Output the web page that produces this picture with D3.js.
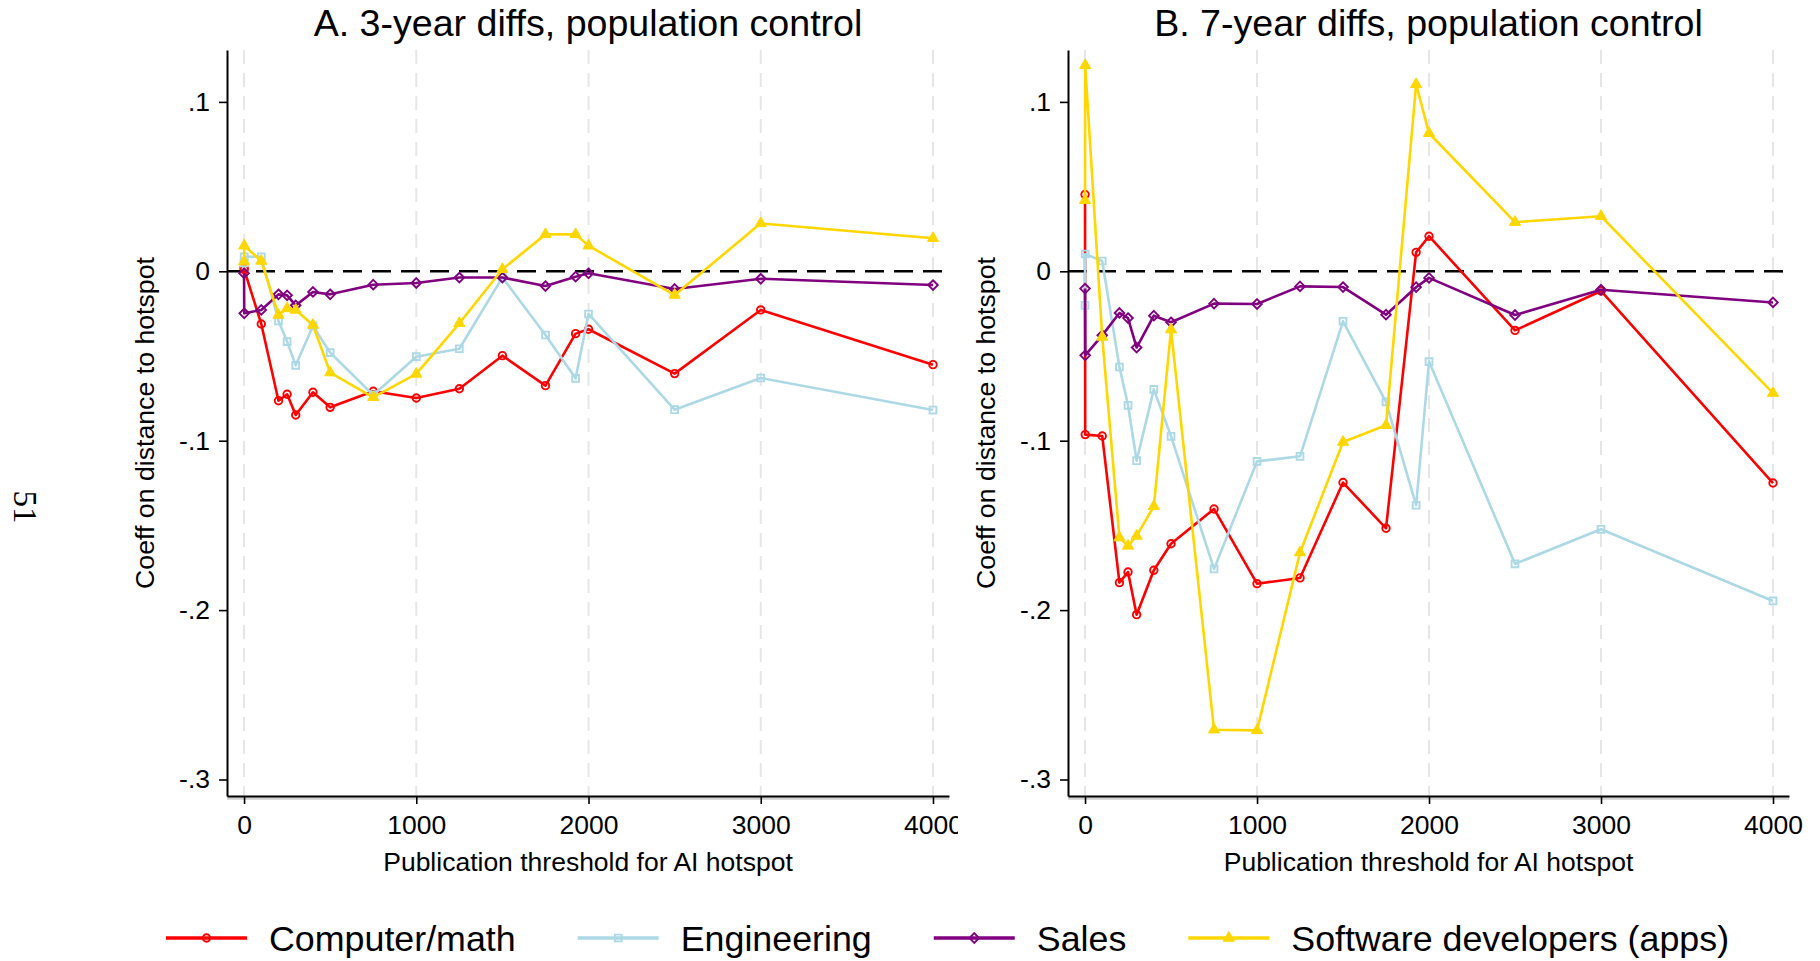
<!DOCTYPE html>
<html>
<head>
<meta charset="utf-8">
<script src="https://cdn.jsdelivr.net/npm/d3@7"></script>
<style>
  body { margin: 0; background: #ffffff; }
  svg { display: block; }
  text { font-family: "Liberation Sans", Arial, Helvetica, sans-serif; fill: #000; }
</style>
</head>
<body>
<svg id="chart" width="1820" height="961"></svg>
<script>
// Publication thresholds (x values shared by every series)
const thresholds = [0, 1, 100, 200, 250, 300, 400, 500, 750, 1000, 1250, 1500, 1750, 1925, 2000, 2500, 3000, 4000];

const seriesNames = ["Computer/math", "Engineering", "Sales", "Software developers (apps)"];
const panelTitles = ["A. 3-year diffs, population control", "B. 7-year diffs, population control"];

// Panel A: 3-year differences
const computerMathA = [0.002, 0.001, -0.0311, -0.0764, -0.0726, -0.0848, -0.0714, -0.0803, -0.0708, -0.0748, -0.0693, -0.0498, -0.0675, -0.0368, -0.0342, -0.0604, -0.0228, -0.0551];
const engineeringA  = [0.005, 0.0086, 0.0086, -0.0293, -0.0415, -0.0555, -0.0323, -0.048, -0.073, -0.0504, -0.0457, -0.0036, -0.0376, -0.0632, -0.0252, -0.0817, -0.063, -0.0819];
const salesA        = [-0.0012, -0.0248, -0.0228, -0.0136, -0.0142, -0.0201, -0.0122, -0.0136, -0.0079, -0.0069, -0.0037, -0.0037, -0.0087, -0.0032, -0.0012, -0.0104, -0.0044, -0.0081];
const softwareA     = [0.0057, 0.0151, 0.0061, -0.0258, -0.0219, -0.0228, -0.0317, -0.0598, -0.0744, -0.0606, -0.0307, 0.0012, 0.0218, 0.0218, 0.0151, -0.014, 0.0283, 0.0195];

// Panel B: 7-year differences
const computerMathB = [0.0453, -0.0964, -0.0972, -0.1838, -0.1775, -0.2027, -0.1765, -0.1608, -0.1403, -0.1844, -0.181, -0.1247, -0.1517, 0.0112, 0.0207, -0.0349, -0.0116, -0.125];
const engineeringB  = [-0.0201, 0.0102, 0.0061, -0.0565, -0.0791, -0.1118, -0.0697, -0.0974, -0.1757, -0.1122, -0.1092, -0.0295, -0.0771, -0.1381, -0.0533, -0.1727, -0.1523, -0.1946];
const salesB        = [-0.0102, -0.0496, -0.0378, -0.0246, -0.0276, -0.045, -0.0262, -0.0301, -0.0191, -0.0193, -0.0089, -0.0093, -0.0256, -0.0094, -0.0039, -0.0258, -0.0109, -0.0184];
const softwareB     = [0.0419, 0.1216, -0.0388, -0.1572, -0.1621, -0.1562, -0.1387, -0.0344, -0.2706, -0.271, -0.166, -0.1008, -0.0909, 0.1104, 0.0815, 0.029, 0.0325, -0.0719];

const yTickValues = [0.1, 0, -0.1, -0.2, -0.3];
const yTickLabels = [".1", "0", "-.1", "-.2", "-.3"];
const xTickValues = [0, 1000, 2000, 3000, 4000];
const xAxisTitle = "Publication threshold for AI hotspot";
const yAxisTitle = "Coeff on distance to hotspot";
const pageNumber = "51";

// ---- styling / layout ----
const colors = ["#ff0000", "#add8e6", "#800080", "#ffd700"];
const symbolKinds = ["circle", "square", "diamond", "triangle"];
const plotTop = 50, plotBottom = 796;
const panels = [
  { left: 227, right: 949, clipRight: 958, values: [computerMathA, engineeringA, salesA, softwareA] },
  { left: 1068, right: 1789, clipRight: 1820, values: [computerMathB, engineeringB, salesB, softwareB] }
];

const svg = d3.select("#chart");
svg.append("rect").attr("width", 1820).attr("height", 961).attr("fill", "#fff");

const y = d3.scaleLinear().domain([-0.30974, 0.13064]).range([plotBottom, plotTop]);

function markerPath(kind) {
  if (kind === "circle") return d3.symbol(d3.symbolCircle, 44)();
  if (kind === "square") return d3.symbol(d3.symbolSquare, 46)();
  if (kind === "diamond") return "M0,-4.8L4.8,0L0,4.8L-4.8,0Z";
  return d3.symbol(d3.symbolTriangle, 54)();
}

function drawMarker(g, kind, color, cx, cy) {
  const p = g.append("path")
    .attr("d", markerPath(kind))
    .attr("transform", `translate(${cx},${cy})`);
  if (kind === "triangle") {
    p.attr("fill", color).attr("stroke", color).attr("stroke-width", 1);
  } else {
    p.attr("fill", "none").attr("stroke", color).attr("stroke-width", 1.9);
  }
}

panels.forEach((panel, pi) => {
  const clipId = "clip" + pi;
  svg.append("clipPath").attr("id", clipId)
    .append("rect").attr("x", panel.left - 230).attr("y", 0)
    .attr("width", panel.clipRight - (panel.left - 230)).attr("height", 900);

  const g = svg.append("g").attr("clip-path", `url(#${clipId})`);
  const x = d3.scaleLinear().domain([-99, 4093]).range([panel.left, panel.right]);

  // vertical dashed grid lines
  g.append("g").selectAll("line").data(xTickValues).join("line")
    .attr("x1", d => x(d)).attr("x2", d => x(d))
    .attr("y1", plotTop).attr("y2", plotBottom)
    .attr("stroke", "#e6e6e6").attr("stroke-width", 2)
    .attr("stroke-dasharray", "14,9");

  // reference line at zero
  g.append("line")
    .attr("x1", panel.left).attr("x2", panel.right)
    .attr("y1", y(0)).attr("y2", y(0))
    .attr("stroke", "#000").attr("stroke-width", 2.6)
    .attr("stroke-dasharray", "19,10");

  // series lines and markers
  const line = d3.line().x((d, i) => x(thresholds[i])).y(d => y(d));
  panel.values.forEach((vals, si) => {
    const sg = g.append("g");
    sg.append("path").datum(vals)
      .attr("d", line)
      .attr("fill", "none")
      .attr("stroke", colors[si])
      .attr("stroke-width", 2.6)
      .attr("stroke-linejoin", "round");
    vals.forEach((v, i) => drawMarker(sg, symbolKinds[si], colors[si], x(thresholds[i]), y(v)));
  });

  // x-axis shadow and axis
  g.append("line")
    .attr("x1", panel.left).attr("x2", panel.right)
    .attr("y1", plotBottom + 2.5).attr("y2", plotBottom + 2.5)
    .attr("stroke", "#cfcfcf").attr("stroke-width", 2.5);

  const xAxis = g.append("g").attr("transform", `translate(0,${plotBottom})`)
    .call(d3.axisBottom(x).tickValues(xTickValues).tickFormat(d3.format("d")).tickSize(8).tickSizeOuter(0).tickPadding(11));
  xAxis.select(".domain").attr("stroke", "#000").attr("stroke-width", 2);
  xAxis.selectAll(".tick line").attr("stroke", "#000").attr("stroke-width", 1.6);
  xAxis.selectAll("text").attr("font-size", 26.5).attr("fill", "#000")
    .style("font-family", '"Liberation Sans", Arial, sans-serif');

  const yAxis = g.append("g").attr("transform", `translate(${panel.left},0)`)
    .call(d3.axisLeft(y).tickValues(yTickValues).tickFormat((d, i) => yTickLabels[i]).tickSize(8).tickSizeOuter(0).tickPadding(9));
  yAxis.select(".domain").attr("stroke", "#000").attr("stroke-width", 2);
  yAxis.selectAll(".tick line").attr("stroke", "#000").attr("stroke-width", 1.6);
  yAxis.selectAll("text").attr("font-size", 26.5).attr("fill", "#000")
    .style("font-family", '"Liberation Sans", Arial, sans-serif');

  // titles
  const cx = (panel.left + panel.right) / 2;
  svg.append("text").attr("x", cx).attr("y", 36)
    .attr("text-anchor", "middle").attr("font-size", 37.6)
    .text(panelTitles[pi]);
  svg.append("text").attr("x", cx).attr("y", 871)
    .attr("text-anchor", "middle").attr("font-size", 26.5)
    .text(xAxisTitle);
  svg.append("text")
    .attr("transform", `translate(${panel.left - 73},${(plotTop + plotBottom) / 2}) rotate(-90)`)
    .attr("text-anchor", "middle").attr("font-size", 26.7)
    .text(yAxisTitle);
});

// legend
const legend = svg.append("g");
let lx = 166;
const legendY = 938;
seriesNames.forEach((name, si) => {
  legend.append("line")
    .attr("x1", lx).attr("x2", lx + 81)
    .attr("y1", legendY).attr("y2", legendY)
    .attr("stroke", colors[si]).attr("stroke-width", 3.6);
  drawMarker(legend, symbolKinds[si], colors[si], lx + 40.5, legendY);
  const t = legend.append("text")
    .attr("x", lx + 103).attr("y", legendY + 12.5)
    .attr("font-size", 35.8)
    .text(name);
  lx = lx + 103 + t.node().getComputedTextLength() + 62;
});

// page number
svg.append("text")
  .attr("transform", "translate(14,507) rotate(90)")
  .attr("text-anchor", "middle")
  .attr("font-size", 33)
  .style("font-family", '"Liberation Serif", "DejaVu Serif", serif')
  .text(pageNumber);
</script>
</body>
</html>
